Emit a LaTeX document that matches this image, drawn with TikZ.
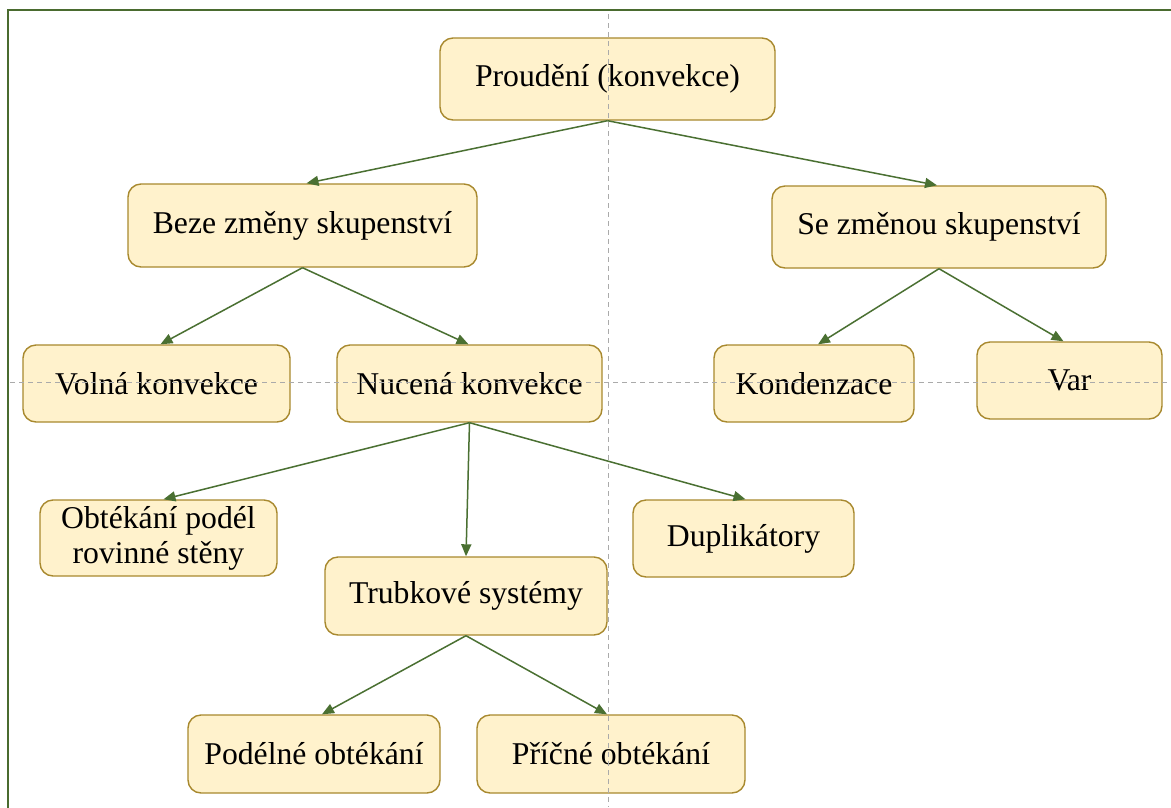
\documentclass[tikz,border=0pt]{standalone}
\usepackage{fontspec}
\setmainfont{Liberation Serif}
\usetikzlibrary{arrows.meta}
\definecolor{boxfill}{HTML}{FFF2CC}
\definecolor{boxline}{HTML}{A8892E}
\definecolor{edgegreen}{HTML}{4A7032}
\definecolor{framegreen}{HTML}{4A6B2F}
\definecolor{guidegray}{HTML}{AAAAAA}
\tikzset{
  box/.style={draw=boxline, fill=boxfill, line width=1.4pt, rounded corners=13pt,
    align=center, inner sep=2pt, font=\fontsize{31.7}{35}\selectfont},
  conn/.style={draw=edgegreen, line width=1.5pt, -{Triangle[length=12pt,width=10pt]}},
  guide/.style={draw=guidegray, line width=1pt, dash pattern=on 5pt off 4pt},
}
\begin{document}
\begin{tikzpicture}[x=1pt,y=-1pt]
\useasboundingbox (0,0) rectangle (1171,807);
\fill[white] (0,0) rectangle (1171,807);
\draw[framegreen, line width=2pt] (8,10) rectangle (1200,840);

\node[box, minimum width=335, minimum height=82] (p) at (607.5,79) {Proudění (konvekce)};
\node[box, minimum width=349, minimum height=83] (b) at (302.5,225.5) {Beze změny skupenství};
\node[box, minimum width=334, minimum height=82] (s) at (939,227) {Se změnou skupenství};
\node[box, minimum width=267, minimum height=77] (v) at (156.5,383.5) {Volná konvekce};
\node[box, minimum width=265, minimum height=77] (n) at (469.5,383.5) {Nucená konvekce};
\node[box, minimum width=200, minimum height=77] (k) at (814,383.5) {Kondenzace};
\node[box, minimum width=185, minimum height=77] (var) at (1069.5,380.5) {Var};
\node[box, minimum width=237, minimum height=76] (o) at (158.5,538) {Obtékání podél\\rovinné stěny};
\node[box, minimum width=221, minimum height=77] (d) at (743.5,538.5) {Duplikátory};
\node[box, minimum width=282, minimum height=78] (t) at (466,596) {Trubkové systémy};
\node[box, minimum width=252, minimum height=78] (pod) at (314,754) {Podélné obtékání};
\node[box, minimum width=268, minimum height=78] (pri) at (611,754) {Příčné obtékání};

\draw[conn] (p.south) -- ([xshift=4pt]b.north);
\draw[conn] (p.south) -- ([xshift=-2pt]s.north);
\draw[conn] (b.south) -- ([xshift=4pt]v.north);
\draw[conn] (b.south) -- ([xshift=-1pt]n.north);
\draw[conn] (s.south) -- ([xshift=4pt]k.north);
\draw[conn] (s.south) -- ([xshift=-6pt]var.north);
\draw[conn] (n.south) -- ([xshift=5pt]o.north);
\draw[conn] (n.south) -- ([xshift=0pt]t.north);
\draw[conn] (n.south) -- ([xshift=2pt]d.north);
\draw[conn] (t.south) -- ([xshift=8pt]pod.north);
\draw[conn] (t.south) -- ([xshift=-4pt]pri.north);

\draw[guide] (608,14) -- (608,807);
\draw[guide] (10,382) -- (1171,382);
\end{tikzpicture}
\end{document}
